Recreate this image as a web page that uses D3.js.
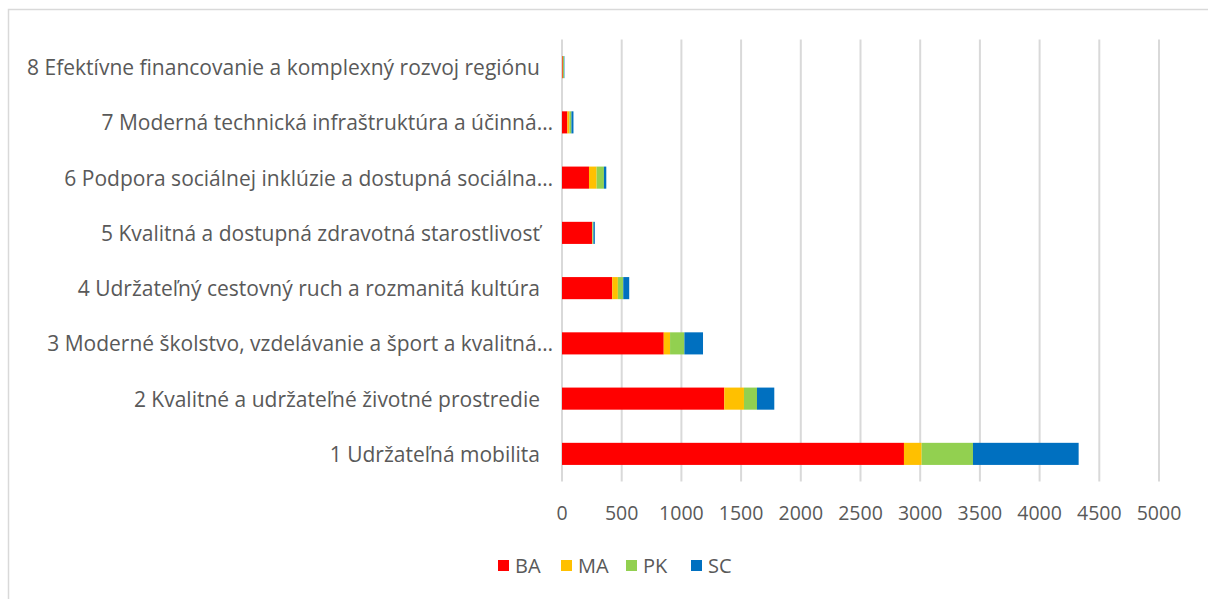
<!DOCTYPE html>
<html>
<head>
<meta charset="utf-8">
<script src="https://cdn.jsdelivr.net/npm/d3@7"></script>
<style>
  body { margin: 0; background: #fff; }
  text { font-family: "Open Sans", Lato, sans-serif; fill: #595959; }
</style>
</head>
<body>
<div id="chart"></div>
<script>
// categories, top to bottom as drawn
let categories = [
  "8 Efektívne financovanie a komplexný rozvoj regiónu",
  "7 Moderná technická infraštruktúra a účinná…",
  "6 Podpora sociálnej inklúzie a dostupná sociálna…",
  "5 Kvalitná a dostupná zdravotná starostlivosť",
  "4 Udržateľný cestovný ruch a rozmanitá kultúra",
  "3 Moderné školstvo, vzdelávanie a šport a kvalitná…",
  "2 Kvalitné a udržateľné životné prostredie",
  "1 Udržateľná mobilita"
];
let truncated = [false, true, true, false, false, true, false, false];

// series values (same order as categories)
let BA = [6, 45, 226, 252, 421, 852, 1359, 2864];
let MA = [2, 17, 64, 3, 47, 53, 165, 148];
let PK = [8, 17, 61, 8, 45, 120, 109, 430];
let SC = [4, 17, 20, 12, 50, 156, 145, 885];

let seriesNames = ["BA", "MA", "PK", "SC"];
let seriesColors = ["#ff0000", "#ffc000", "#92d050", "#0070c0"];
let xTicks = [0, 500, 1000, 1500, 2000, 2500, 3000, 3500, 4000, 4500, 5000];

let width = 1208, height = 599;
let margin = { left: 562, right: 49, top: 39.5, bottom: 117.5 };
let chart_width = width - margin.left - margin.right;
let chart_height = height - margin.top - margin.bottom;

let svg = d3.select("#chart").append("svg")
  .attr("width", width)
  .attr("height", height);

// outer frame
svg.append("rect")
  .attr("x", 8.5).attr("y", 9.5)
  .attr("width", width + 10).attr("height", height + 10)
  .attr("fill", "none")
  .attr("stroke", "#d9d9d9")
  .attr("stroke-width", 1.5);

let g = svg.append("g")
  .attr("transform", `translate(${margin.left},${margin.top})`);

// build rows for stack
let data = categories.map((c, i) => ({
  cat: c, BA: BA[i], MA: MA[i], PK: PK[i], SC: SC[i]
}));

let x_scale = d3.scaleLinear().domain([0, 5000]).range([0, chart_width]);
let y_scale = d3.scaleBand().domain(categories).range([0, chart_height]).paddingInner(0.6).paddingOuter(0.3);
let color = d3.scaleOrdinal().domain(seriesNames).range(seriesColors);

// gridlines
g.append("g")
  .selectAll("line")
  .data(xTicks)
  .enter()
  .append("line")
  .attr("x1", d => x_scale(d)).attr("x2", d => x_scale(d))
  .attr("y1", 0).attr("y2", chart_height)
  .attr("stroke", "#d9d9d9")
  .attr("stroke-width", 2);

// x tick labels
g.append("g")
  .selectAll("text")
  .data(xTicks)
  .enter()
  .append("text")
  .attr("x", d => x_scale(d))
  .attr("y", chart_height + 38)
  .attr("text-anchor", "middle")
  .attr("font-size", "19.5px")
  .text(d => d);

// category labels
g.append("g")
  .selectAll("text")
  .data(categories)
  .enter()
  .append("text")
  .attr("x", (d, i) => truncated[i] ? -9 : -22)
  .attr("y", d => y_scale(d) + y_scale.bandwidth() / 2 + 8)
  .attr("text-anchor", "end")
  .attr("font-size", "21px")
  .text(d => d);

// stacked bars
let stackedData = d3.stack().keys(seriesNames)(data);
g.append("g")
  .selectAll(".series")
  .data(stackedData)
  .enter()
  .append("g")
  .attr("class", "series")
  .attr("fill", d => color(d.key))
  .selectAll("rect")
  .data(d => d)
  .enter()
  .append("rect")
  .attr("x", d => x_scale(d[0]))
  .attr("y", d => y_scale(d.data.cat))
  .attr("width", d => x_scale(d[1]) - x_scale(d[0]))
  .attr("height", y_scale.bandwidth());

// legend
let legendX = [498, 561, 626, 691];
let legend = svg.append("g");
seriesNames.forEach((s, i) => {
  let row = legend.append("g").attr("transform", `translate(${legendX[i]},560)`);
  row.append("rect")
    .attr("width", 11).attr("height", 11)
    .attr("fill", color(s));
  row.append("text")
    .attr("x", 17).attr("y", 13)
    .attr("font-size", "20px")
    .text(s);
});
</script>
</body>
</html>
